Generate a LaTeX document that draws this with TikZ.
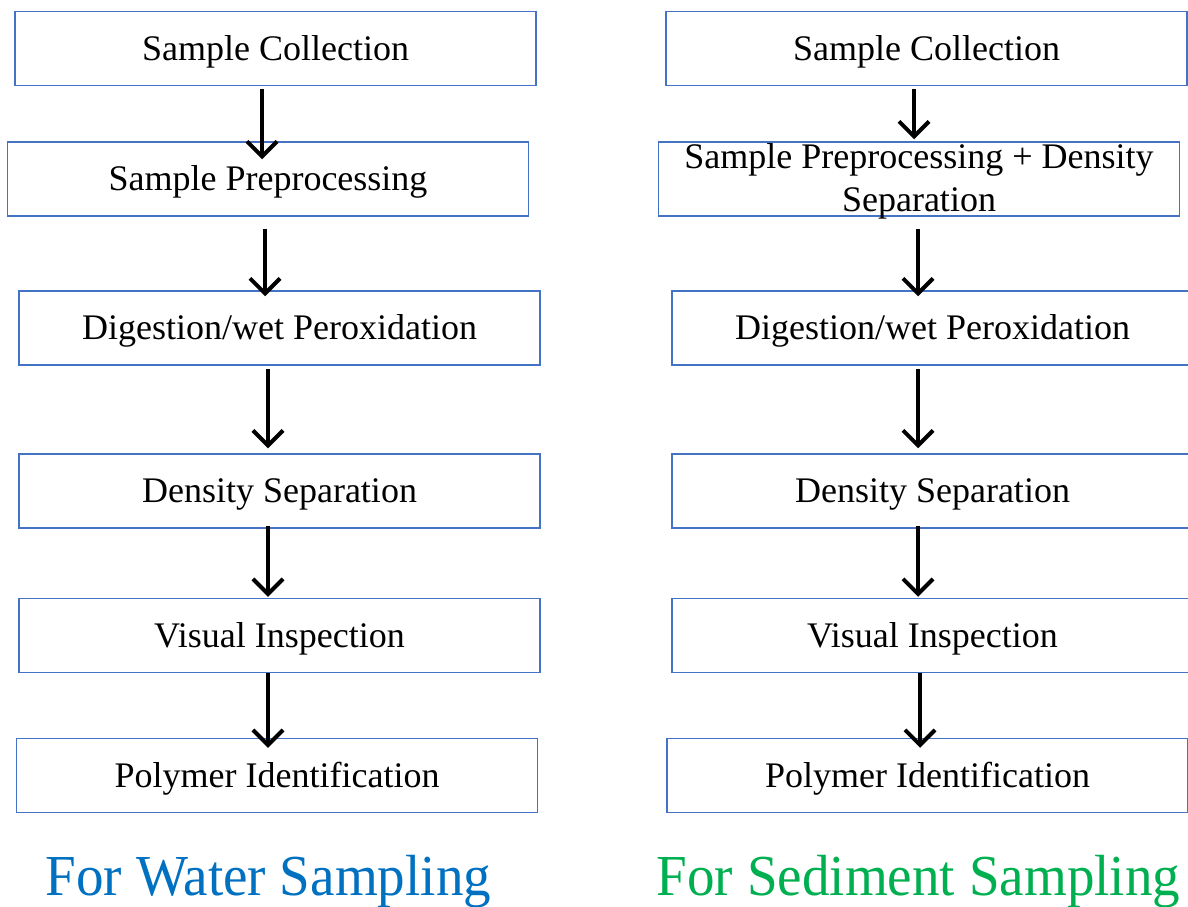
\documentclass[tikz,border=0pt]{standalone}
\usepackage{fontspec}
\setmainfont{Liberation Serif}
\usetikzlibrary{arrows.meta}
\definecolor{boxblue}{HTML}{4472C4}
\definecolor{waterblue}{HTML}{0070C0}
\definecolor{sedgreen}{HTML}{00B050}

\begin{document}
\begin{tikzpicture}[x=1pt, y=-1pt,
          stage/.style = {draw=boxblue, line width=1.5pt, align=center,
            minimum width=521pt, minimum height=74pt, inner sep=0pt,
            text depth=1pt, font=\fontsize{36}{43}\selectfont},
          flow/.style = {line width=4pt,
            -{Straight Barb[length=15pt,width=30pt]}},
          heading/.style = {anchor=base, xscale=0.95,
            font=\fontsize{58}{70}\selectfont}]
  \useasboundingbox (0,0) rectangle (1188,907);
  % water sampling steps
  \node[stage] (w1) at (275.5,48.5) {Sample Collection};
  \node[stage] (w2) at (268,179) {Sample Preprocessing};
  \node[stage] (w3) at (279.5,328) {Digestion/wet Peroxidation};
  \node[stage] (w4) at (279.5,491) {Density Separation};
  \node[stage] (w5) at (279.5,635.5) {Visual Inspection};
  \node[stage] (w6) at (277,775.5) {Polymer Identification};
  % sediment sampling steps
  \node[stage] (s1) at (926.5,48.5) {Sample Collection};
  \node[stage, text depth=3pt] (s2) at (919,179) {Sample Preprocessing + Density\\Separation};
  \node[stage] (s3) at (932.5,328) {Digestion/wet Peroxidation};
  \node[stage] (s4) at (932.5,491) {Density Separation};
  \node[stage] (s5) at (932.5,635.5) {Visual Inspection};
  \node[stage] (s6) at (927.5,775.5) {Polymer Identification};
  % arrows
  \draw[flow, shorten <=3pt, shorten >=-18pt] (w1.south -| 262,0) -- (w2.north -| 262,0);
  \draw[flow, shorten <=12pt, shorten >=-6pt] (w2.south -| 265,0) -- (w3.north -| 265,0);
  \draw[flow, shorten <=3pt, shorten >=5pt] (w3.south -| 268,0) -- (w4.north -| 268,0);
  \draw[flow, shorten <=-3pt, shorten >=1pt] (w4.south -| 268,0) -- (w5.north -| 268,0);
  \draw[flow, shorten >=-10pt] (w5.south -| 268,0) -- (w6.north -| 268,0);
  \draw[flow, shorten <=3pt, shorten >=2pt] (s1.south -| 914,0) -- (s2.north -| 914,0);
  \draw[flow, shorten <=12pt, shorten >=-6pt] (s2.south -| 918,0) -- (s3.north -| 918,0);
  \draw[flow, shorten <=3pt, shorten >=5pt] (s3.south -| 918,0) -- (s4.north -| 918,0);
  \draw[flow, shorten <=-3pt, shorten >=1pt] (s4.south -| 918,0) -- (s5.north -| 918,0);
  \draw[flow, shorten >=-10pt] (s5.south -| 920,0) -- (s6.north -| 920,0);
  % column headings
  \node[heading, text=waterblue] (wt) at (268.5,895) {For Water Sampling};
  \node[heading, text=sedgreen] (st) at (918.5,895) {For Sediment Sampling};
\end{tikzpicture}
\end{document}
